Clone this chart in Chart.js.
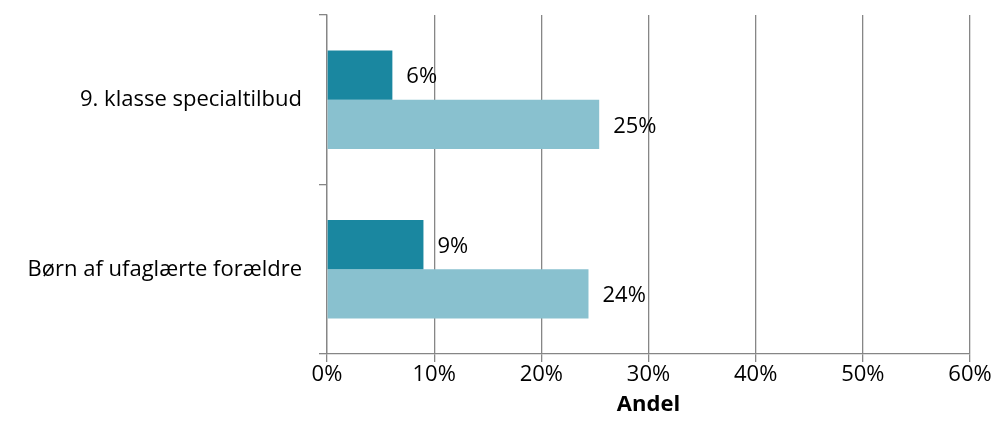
<!DOCTYPE html>
<html>
<head>
<meta charset="utf-8">
<script src="https://cdn.jsdelivr.net/npm/chart.js@4"></script>
<style>
  html, body { margin: 0; padding: 0; background: #ffffff; }
  #wrap { width: 997px; height: 442px; position: relative; }
</style>
</head>
<body>
<div id="wrap"><canvas id="c"></canvas></div>
<script>
const categories = ["9. klasse specialtilbud", "Børn af ufaglærte forældre"];
const seriesA = [6.1, 9.0];
const seriesB = [25.4, 24.4];
const xTicks = [0, 10, 20, 30, 40, 50, 60];
const xTitle = "Andel";

const FONT = "'Open Sans', sans-serif";
const GRID = "#868686";
const FS = 22;

const valueLabels = {
  id: "valueLabels",
  afterDatasetsDraw(chart) {
    const ctx = chart.ctx;
    ctx.save();
    ctx.font = FS + "px " + FONT;
    ctx.fillStyle = "#000000";
    ctx.textBaseline = "middle";
    ctx.textAlign = "left";
    chart.data.datasets.forEach((ds, di) => {
      chart.getDatasetMeta(di).data.forEach((bar, i) => {
        ctx.fillText(Math.round(ds.data[i]) + "%", bar.x + 14, bar.y + 2);
      });
    });
    ctx.restore();
  }
};

new Chart(document.getElementById("c"), {
  type: "bar",
  data: {
    labels: categories,
    datasets: [
      { data: seriesA, backgroundColor: "#1A87A0", borderWidth: 0 },
      { data: seriesB, backgroundColor: "#89C1CF", borderWidth: 0 }
    ]
  },
  options: {
    indexAxis: "y",
    responsive: true,
    maintainAspectRatio: false,
    animation: false,
    devicePixelRatio: 1,
    layout: { padding: { left: 0, right: 27, top: 15, bottom: 0 } },
    plugins: { legend: { display: false }, tooltip: { enabled: false } },
    datasets: { bar: { categoryPercentage: 0.58, barPercentage: 1 } },
    scales: {
      x: {
        min: 0, max: 60,
        afterBuildTicks(scale) { scale.ticks = xTicks.map(v => ({ value: v })); },
        ticks: {
          callback: v => v + "%",
          font: { family: FONT, size: FS },
          color: "#000000",
          padding: 0,
          maxRotation: 0
        },
        grid: { color: GRID, lineWidth: 1.3, tickLength: 8, drawTicks: true },
        border: { color: GRID, width: 1.3 },
        title: {
          display: true, text: xTitle,
          font: { family: FONT, size: FS, weight: "bold" },
          color: "#000000",
          padding: { top: 0, bottom: 24 }
        },
        afterFit(scale) { scale.height = 88; scale.paddingLeft = 0; scale.paddingRight = 0; }
      },
      y: {
        ticks: {
          font: { family: FONT, size: FS },
          color: "#000000",
          padding: 17
        },
        grid: { drawOnChartArea: false, color: GRID, lineWidth: 1.3, tickLength: 8, offset: true },
        border: { color: GRID, width: 1.3 },
        afterFit(scale) { scale.width = 327; scale.paddingTop = 0; scale.paddingBottom = 0; }
      }
    }
  },
  plugins: [valueLabels]
});
</script>
</body>
</html>
